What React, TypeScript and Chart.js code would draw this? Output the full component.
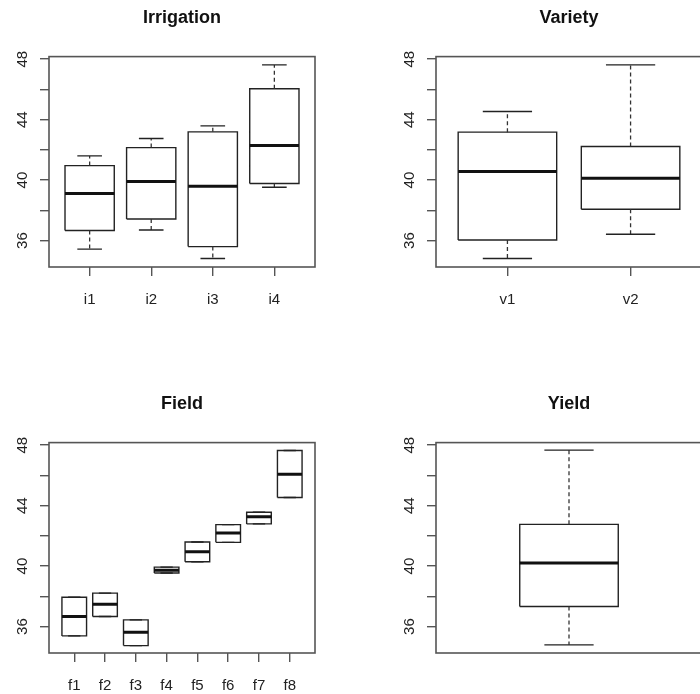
import React, { useEffect, useRef } from 'react';
import { Chart, registerables } from 'chart.js';

Chart.register(...registerables);

// ---------- data ----------
const yTickValues = [36, 38, 40, 42, 44, 46, 48];
const yLabelValues = [36, 40, 44, 48];
const yAxisMin = 34.25;
const yAxisMax = 48.17;

const irrigationLabels = ['i1', 'i2', 'i3', 'i4'];
const irrigationMin = [35.43, 36.7, 34.81, 39.53];
const irrigationQ1 = [36.66, 37.43, 35.6, 39.77];
const irrigationMedian = [39.11, 39.9, 39.6, 42.29];
const irrigationQ3 = [40.96, 42.15, 43.19, 46.04];
const irrigationMax = [41.6, 42.75, 43.59, 47.62];

const varietyLabels = ['v1', 'v2'];
const varietyMin = [34.81, 36.42];
const varietyQ1 = [36.04, 38.07];
const varietyMedian = [40.57, 40.12];
const varietyQ3 = [43.17, 42.22];
const varietyMax = [44.54, 47.62];

const fieldLabels = ['f1', 'f2', 'f3', 'f4', 'f5', 'f6', 'f7', 'f8'];
const fieldMin = [35.38, 36.66, 34.74, 39.54, 40.29, 41.57, 42.79, 44.54];
const fieldQ1 = [35.38, 36.66, 34.74, 39.54, 40.29, 41.57, 42.79, 44.54];
const fieldMedian = [36.66, 37.48, 35.62, 39.73, 40.95, 42.19, 43.27, 46.08];
const fieldQ3 = [37.94, 38.21, 36.44, 39.93, 41.59, 42.74, 43.56, 47.65];
const fieldMax = [37.94, 38.21, 36.44, 39.93, 41.59, 42.74, 43.56, 47.65];

const yieldLabels = [''];
const yieldMin = [34.79];
const yieldQ1 = [37.33];
const yieldMedian = [40.2];
const yieldQ3 = [42.76];
const yieldMax = [47.67];

// ---------- component ----------
type PanelProps = {
  title: string;
  labels: string[];
  min: number[];
  q1: number[];
  median: number[];
  q3: number[];
  max: number[];
  boxWidth: number;
  showXAxis: boolean;
  left: number;
  top: number;
};

const FONT = "'Liberation Sans', Arial, Helvetica, sans-serif";
const CANVAS_W = 350;
const CANVAS_H = 308;
const PLOT_BOTTOM = 267;

const framePlugin = {
  id: 'rframe',
  afterDraw(chart: any) {
    const { ctx, chartArea } = chart;
    ctx.save();
    ctx.strokeStyle = '#555';
    ctx.lineWidth = 1.6;
    ctx.strokeRect(chartArea.left, chartArea.top, chartArea.right - chartArea.left, chartArea.bottom - chartArea.top);
    ctx.restore();
  },
};

function BoxPanel(p: PanelProps) {
  const ref = useRef<HTMLCanvasElement | null>(null);
  useEffect(() => {
    if (!ref.current) return;
    const n = p.labels.length;
    const lo = 0.5;
    const hi = n + 0.5;
    const ext = (hi - lo) * 0.04;
    const positions = p.labels.map((_, i) => i + 1);
    const half = p.boxWidth / 2;
    const capHalf = p.boxWidth / 4;

    const boxes: any[] = [];
    const medians: any[] = [];
    const whiskers: any[] = [];
    const caps: any[] = [];
    positions.forEach((x, i) => {
      const x0 = x - half;
      const x1 = x + half;
      boxes.push({ x: x0, y: p.q1[i] }, { x: x1, y: p.q1[i] }, { x: x1, y: p.q3[i] }, { x: x0, y: p.q3[i] }, { x: x0, y: p.q1[i] }, { x: x, y: null });
      medians.push({ x: x0, y: p.median[i] }, { x: x1, y: p.median[i] }, { x: x, y: null });
      whiskers.push({ x: x, y: p.q3[i] }, { x: x, y: p.max[i] }, { x: x, y: null }, { x: x, y: p.q1[i] }, { x: x, y: p.min[i] }, { x: x, y: null });
      caps.push({ x: x - capHalf, y: p.max[i] }, { x: x + capHalf, y: p.max[i] }, { x: x, y: null }, { x: x - capHalf, y: p.min[i] }, { x: x + capHalf, y: p.min[i] }, { x: x, y: null });
    });

    const common = { showLine: true, spanGaps: false, pointRadius: 0, fill: false, tension: 0 };

    const chart = new Chart(ref.current, {
      type: 'scatter',
      data: {
        datasets: [
          { ...common, data: medians, borderColor: '#111', borderWidth: 3, borderCapStyle: 'butt' },
          { ...common, data: caps, borderColor: '#222', borderWidth: 1.4 },
          { ...common, data: whiskers, borderColor: '#333', borderWidth: 1.3, borderDash: [4, 3] },
          { ...common, data: boxes, borderColor: '#222', borderWidth: 1.4, borderJoinStyle: 'miter' },
        ] as any,
      },
      options: {
        responsive: false,
        animation: false,
        events: [],
        layout: { padding: { left: 0, right: 35, top: 0, bottom: 0 } },
        plugins: {
          legend: { display: false },
          tooltip: { enabled: false },
          title: {
            display: true,
            text: p.title,
            fullSize: false,
            color: '#111',
            font: { family: FONT, size: 18, weight: 'bold' },
            padding: { top: 7, bottom: 28 },
          },
        },
        scales: {
          x: {
            type: 'linear',
            min: lo - ext,
            max: hi + ext,
            afterBuildTicks: (scale: any) => {
              scale.ticks = p.showXAxis ? positions.map((v) => ({ value: v })) : [];
            },
            afterFit: (scale: any) => {
              scale.height = CANVAS_H - PLOT_BOTTOM;
            },
            border: { display: false },
            grid: {
              display: p.showXAxis,
              drawOnChartArea: false,
              drawTicks: true,
              tickLength: 9,
              tickColor: '#555',
              lineWidth: 1.4,
            },
            ticks: {
              display: p.showXAxis,
              autoSkip: false,
              maxRotation: 0,
              minRotation: 0,
              padding: 15,
              color: '#222',
              font: { family: FONT, size: 15 },
              callback: (_v: any, i: number) => p.labels[i],
            },
          },
          y: {
            type: 'linear',
            min: yAxisMin,
            max: yAxisMax,
            afterBuildTicks: (scale: any) => {
              scale.ticks = yTickValues.map((v) => ({ value: v }));
            },
            afterFit: (scale: any) => {
              scale.width = 49;
            },
            border: { display: false },
            grid: {
              drawOnChartArea: false,
              drawTicks: true,
              tickLength: 9,
              tickColor: '#555',
              lineWidth: 1.4,
            },
            ticks: {
              autoSkip: false,
              minRotation: 90,
              maxRotation: 90,
              crossAlign: 'center',
              padding: 9,
              color: '#222',
              font: { family: FONT, size: 15 },
              callback: (v: any) => (yLabelValues.includes(Number(v)) ? String(v) : ''),
            },
          },
        },
      } as any,
      plugins: [framePlugin],
    });
    return () => chart.destroy();
  }, []);

  return (
    <canvas
      ref={ref}
      width={CANVAS_W}
      height={CANVAS_H}
      style={{ position: 'absolute', left: p.left, top: p.top, width: CANVAS_W, height: CANVAS_H }}
    />
  );
}

export default function App() {
  return (
    <div
      style={{
        position: 'absolute',
        left: 0,
        top: 0,
        width: 700,
        height: 694,
        overflow: 'hidden',
        background: '#fff',
      }}
    >
      <BoxPanel title="Irrigation" labels={irrigationLabels} min={irrigationMin} q1={irrigationQ1} median={irrigationMedian} q3={irrigationQ3} max={irrigationMax} boxWidth={0.8} showXAxis={true} left={0} top={0} />
      <BoxPanel title="Variety" labels={varietyLabels} min={varietyMin} q1={varietyQ1} median={varietyMedian} q3={varietyQ3} max={varietyMax} boxWidth={0.8} showXAxis={true} left={387} top={0} />
      <BoxPanel title="Field" labels={fieldLabels} min={fieldMin} q1={fieldQ1} median={fieldMedian} q3={fieldQ3} max={fieldMax} boxWidth={0.8} showXAxis={true} left={0} top={386} />
      <BoxPanel title="Yield" labels={yieldLabels} min={yieldMin} q1={yieldQ1} median={yieldMedian} q3={yieldQ3} max={yieldMax} boxWidth={0.4} showXAxis={false} left={387} top={386} />
    </div>
  );
}
